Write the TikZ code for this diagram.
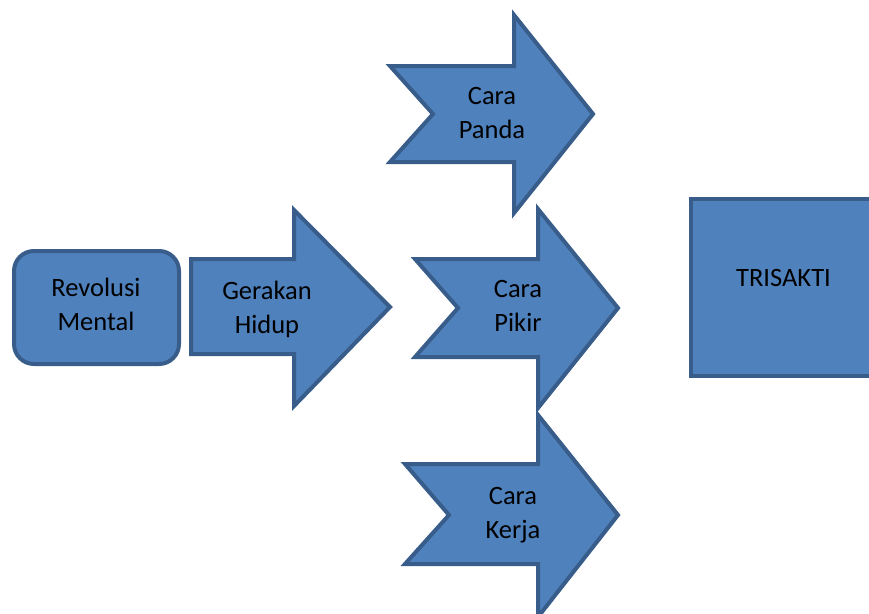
\documentclass[tikz,border=0pt]{standalone}
\usepackage{fontspec}
\setmainfont{Carlito}
\definecolor{shapefill}{HTML}{4F81BD}
\definecolor{shapeline}{HTML}{385D8A}
\begin{document}
\begin{tikzpicture}[x=1pt,y=-1pt,
  bluebody/.style={fill=shapefill,draw=shapeline,line width=4pt,line join=miter},
  txt/.style={font=\fontsize{26.5}{34}\selectfont,align=center,inner sep=0pt,text=black}]
\useasboundingbox (0,0) rectangle (869,613);
\clip (0,0) rectangle (869,613);

% starting point
\draw[bluebody,rounded corners=20pt] (14,251) rectangle (179,364);
% plain arrow
\draw[bluebody] (191,259) -- (294,259) -- (294,210) -- (390,307) -- (294,406)
  -- (294,354) -- (191,354) -- cycle;
% three notched arrows
\draw[bluebody] (390,66) -- (514,66) -- (514,15) -- (593,114) -- (514,213)
  -- (514,162) -- (390,162) -- (433,114) -- cycle;
\draw[bluebody] (415,259) -- (538,259) -- (538,209) -- (618,308) -- (538,408)
  -- (538,357) -- (415,357) -- (458,308) -- cycle;
\draw[bluebody] (405,464) -- (538,464) -- (538,415) -- (618,515) -- (538,617)
  -- (538,564) -- (405,564) -- (449,515) -- cycle;
% goal box
\draw[bluebody] (691,199) rectangle (885,376);

\node[txt] (revolusi) at (96,304) {Revolusi\\Mental};
\node[txt] (gerakan) at (267,309.5) {Gerakan\\Hidup};
\node[txt] (panda) at (492,112.5) {Cara\\Panda};
\node[txt] (pikir) at (518,305.5) {Cara\\Pikir};
\node[txt] (kerja) at (513,515.5) {Cara\\Kerja};
\node[txt] (trisakti) at (783.5,278) {TRISAKTI};
\end{tikzpicture}
\end{document}
